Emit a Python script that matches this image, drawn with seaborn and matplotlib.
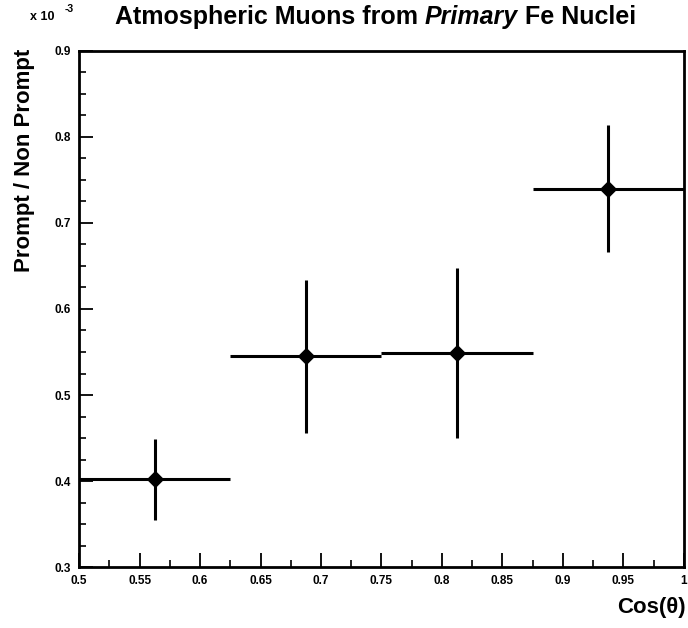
import matplotlib
matplotlib.use("Agg")
import matplotlib.pyplot as plt
import seaborn as sns
import numpy as np
import pandas as pd
from matplotlib.ticker import MultipleLocator, FixedLocator

# Data
cos_theta = [0.5625, 0.6875, 0.8125, 0.9375]
bin_halfwidth = [0.0625, 0.0625, 0.0625, 0.0625]
ratio = [0.402, 0.545, 0.549, 0.740]
ratio_err = [0.047, 0.089, 0.099, 0.074]
xticks = [0.5, 0.55, 0.6, 0.65, 0.7, 0.75, 0.8, 0.85, 0.9, 0.95, 1.0]
xticklabels = ["0.5", "0.55", "0.6", "0.65", "0.7", "0.75", "0.8", "0.85", "0.9", "0.95", "1"]
yticks = [0.3, 0.4, 0.5, 0.6, 0.7, 0.8, 0.9]
yticklabels = ["0.3", "0.4", "0.5", "0.6", "0.7", "0.8", "0.9"]
title_parts = [("Atmospheric Muons from ", "normal"), ("Primary", "italic"), (" Fe Nuclei", "normal")]

sns.set_theme(style="ticks")
plt.rcParams['font.family'] = ['Liberation Sans', 'DejaVu Sans']
plt.rcParams['text.color'] = 'black'
plt.rcParams['xtick.color'] = 'black'
plt.rcParams['ytick.color'] = 'black'
plt.rcParams['axes.labelcolor'] = 'black'

df = pd.DataFrame({"x": cos_theta, "y": ratio, "xe": bin_halfwidth, "ye": ratio_err})

fig = plt.figure(figsize=(6.88, 6.28), dpi=100)
ax = fig.add_axes([0.115, 0.097, 0.879, 0.822])

ax.errorbar(df["x"], df["y"], xerr=df["xe"], yerr=df["ye"], fmt="none",
            ecolor="black", elinewidth=2.2, capsize=0)
sns.scatterplot(data=df, x="x", y="y", ax=ax, marker="D", s=80, color="black",
                edgecolor="black", linewidth=0, zorder=5)

ax.set_xlim(0.5, 1.0)
ax.set_ylim(0.3, 0.9)
ax.xaxis.set_major_locator(FixedLocator(xticks))
ax.set_xticklabels(xticklabels)
ax.yaxis.set_major_locator(FixedLocator(yticks))
ax.set_yticklabels(yticklabels)
ax.xaxis.set_minor_locator(MultipleLocator(0.025))
ax.yaxis.set_minor_locator(MultipleLocator(0.025))
ax.tick_params(axis="both", which="major", direction="in", length=10, width=1.3,
               labelsize=8.5, top=False, right=False, pad=6)
ax.tick_params(axis="both", which="minor", direction="in", length=5, width=1.2,
               top=False, right=False)
for lab in ax.get_xticklabels() + ax.get_yticklabels():
    lab.set_fontweight("bold")
for sp in ax.spines.values():
    sp.set_linewidth(2.0)
    sp.set_color("black")

ax.set_xlabel("")
ax.set_ylabel("")
fig.text(0.997, 0.024, "Cos(\u03b8)", ha="right", va="baseline", fontsize=16, fontweight="bold")
fig.text(0.035, 0.922, "Prompt / Non Prompt", rotation=90, ha="center", va="top",
         fontsize=16, fontweight="bold")

# Title with italic "Primary", pieces placed side by side
renderer = fig.canvas.get_renderer()
x_px = 115.0
base_y = 1 - 24.0 / 628
for txt, st in title_parts:
    t = fig.text(x_px / 688, base_y, txt, ha="left", va="baseline", fontsize=18,
                 fontweight="bold", style=st)
    bb = t.get_window_extent(renderer=renderer)
    x_px += bb.width

fig.text(30 / 688, 1 - 20.0 / 628, "x 10", ha="left", va="baseline", fontsize=9, fontweight="bold")
fig.text(65 / 688, 1 - 12.0 / 628, "-3", ha="left", va="baseline", fontsize=7.5, fontweight="bold")

fig.savefig("out.png", dpi=100, facecolor="white")
